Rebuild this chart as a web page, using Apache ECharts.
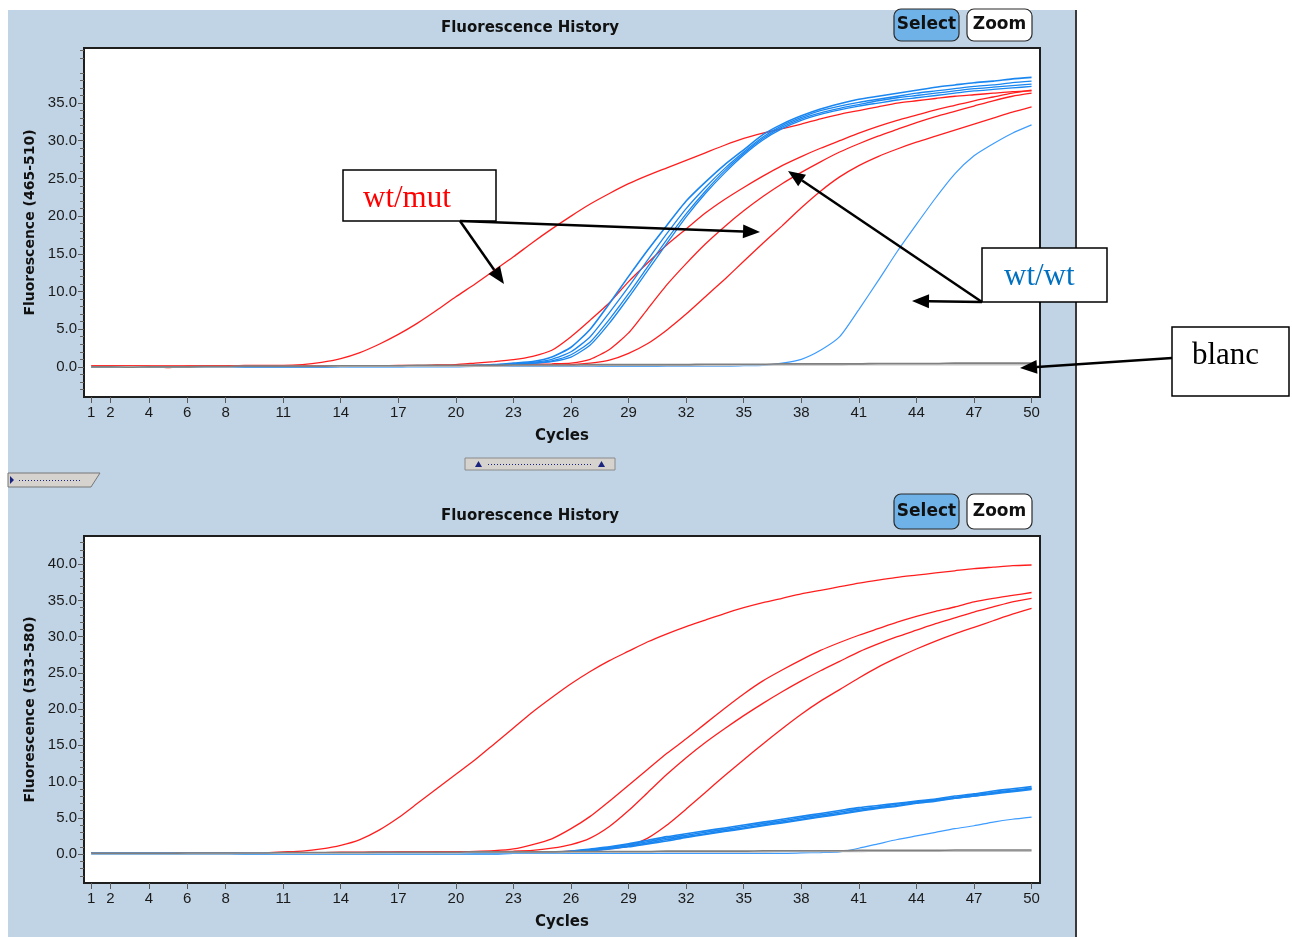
<!DOCTYPE html>
<html>
<head>
<meta charset="utf-8">
<title>Fluorescence History</title>
<script src="https://cdn.jsdelivr.net/npm/echarts@6/dist/echarts.min.js"></script>
<style>
  html, body { margin: 0; padding: 0; background: #fff; }
  #chart { width: 1292px; height: 937px; }
</style>
</head>
<body>
<div id="chart"></div>
<script>
// cycle numbers (x) and axis labels
const cycles = [1, 2, 3, 4, 5, 6, 7, 8, 9, 10, 11, 12, 13, 14, 15, 16, 17, 18, 19, 20,
  21, 22, 23, 24, 25, 26, 27, 28, 29, 30, 31, 32, 33, 34, 35, 36, 37, 38, 39, 40,
  41, 42, 43, 44, 45, 46, 47, 48, 49, 50];
const cycleTicks = [1, 2, 4, 6, 8, 11, 14, 17, 20, 23, 26, 29, 32, 35, 38, 41, 44, 47, 50];
const yTicks465 = [0, 5, 10, 15, 20, 25, 30, 35];
const yTicks533 = [0, 5, 10, 15, 20, 25, 30, 35, 40];

// channel 465-510 (top)
const mut1_465 = [0.1, 0.1, 0.1, 0.05, -0.1, 0.05, 0.1, 0.1, 0.2, 0.2,
  0.2, 0.3, 0.6, 1.1, 1.9, 3.0, 4.3, 5.8, 7.5, 9.3,
  11.0, 12.8, 14.6, 16.5, 18.3, 20.0, 21.6, 23.0, 24.3, 25.4,
  26.4, 27.4, 28.4, 29.4, 30.3, 31.0, 31.6, 32.2, 32.9, 33.5,
  34.0, 34.5, 35.0, 35.3, 35.6, 35.9, 36.1, 36.3, 36.5, 36.6];
const mut2_465 = [0.1, 0.1, 0.1, 0.1, 0.1, 0.1, 0.1, 0.1, 0.1, 0.1,
  0.1, 0.1, 0.1, 0.1, 0.15, 0.15, 0.2, 0.2, 0.25, 0.3,
  0.5, 0.7, 0.95, 1.4, 2.2, 4.0, 6.2, 8.5, 11.3, 13.8,
  16.2, 18.3, 20.4, 22.2, 23.8, 25.3, 26.7, 27.9, 29.0, 30.0,
  31.0, 31.9, 32.7, 33.4, 34.1, 34.7, 35.3, 35.8, 36.3, 36.7];
const mut3_465 = [0.1, 0.1, 0.1, 0.1, 0.1, 0.1, 0.1, 0.1, 0.1, 0.1,
  0.1, 0.1, 0.1, 0.1, 0.1, 0.1, 0.15, 0.15, 0.2, 0.2,
  0.2, 0.25, 0.3, 0.35, 0.4, 0.5, 1.0, 2.3, 4.5, 7.7,
  10.9, 13.7, 16.3, 18.6, 20.7, 22.6, 24.3, 25.8, 27.2, 28.5,
  29.6, 30.6, 31.5, 32.4, 33.2, 33.9, 34.6, 35.3, 35.9, 36.3];
const mut4_465 = [0.05, 0.05, 0.05, 0.05, 0.05, 0.05, 0.05, 0.05, 0.1, 0.1,
  0.1, 0.1, 0.1, 0.1, 0.1, 0.1, 0.1, 0.1, 0.1, 0.1,
  0.1, 0.15, 0.2, 0.2, 0.25, 0.3, 0.5, 0.9, 1.8, 3.1,
  4.9, 7.0, 9.3, 11.6, 14.0, 16.4, 18.7, 21.1, 23.3, 25.2,
  26.7, 27.9, 28.9, 29.8, 30.6, 31.4, 32.2, 33.0, 33.8, 34.5];
const wt1_465 = [0.0, 0.0, 0.0, 0.0, 0.0, 0.0, 0.0, 0.0, 0.0, 0.0,
  0.0, 0.0, 0.0, 0.05, 0.05, 0.05, 0.05, 0.1, 0.1, 0.1,
  0.2, 0.3, 0.5, 0.7, 1.3, 2.6, 5.0, 8.4, 12.0, 15.5,
  18.8, 22.0, 24.5, 26.8, 28.8, 30.8, 32.2, 33.3, 34.2, 34.9,
  35.5, 35.9, 36.3, 36.7, 37.1, 37.4, 37.7, 37.9, 38.2, 38.4];
const wt2_465 = [0.0, 0.0, 0.0, 0.0, 0.0, 0.0, 0.0, 0.0, 0.0, 0.0,
  0.0, 0.0, 0.0, 0.05, 0.05, 0.05, 0.05, 0.1, 0.1, 0.1,
  0.15, 0.25, 0.4, 0.6, 1.0, 2.0, 4.0, 7.2, 10.6, 14.2,
  17.7, 21.0, 23.8, 26.3, 28.5, 30.5, 32.0, 33.1, 34.0, 34.6,
  35.1, 35.5, 35.9, 36.3, 36.6, 36.9, 37.2, 37.4, 37.7, 37.9];
const wt3_465 = [0.0, 0.0, 0.0, 0.0, 0.0, 0.0, 0.0, 0.0, 0.0, 0.0,
  0.0, 0.0, 0.0, 0.05, 0.05, 0.05, 0.05, 0.1, 0.1, 0.1,
  0.1, 0.2, 0.35, 0.5, 0.8, 1.6, 3.3, 6.3, 9.7, 13.3,
  16.9, 20.3, 23.3, 26.0, 28.3, 30.3, 31.8, 32.9, 33.7, 34.3,
  34.8, 35.3, 35.7, 36.0, 36.3, 36.6, 36.9, 37.1, 37.3, 37.5];
const wt4_465 = [0.0, 0.0, 0.0, 0.0, 0.0, 0.0, 0.0, 0.0, 0.0, 0.0,
  0.0, 0.0, 0.0, 0.05, 0.05, 0.05, 0.05, 0.1, 0.1, 0.1,
  0.1, 0.15, 0.3, 0.45, 0.7, 1.3, 2.9, 5.8, 9.2, 12.8,
  16.4, 19.9, 23.0, 25.7, 28.1, 30.1, 31.6, 32.7, 33.5, 34.1,
  34.6, 35.0, 35.4, 35.7, 36.0, 36.3, 36.6, 36.8, 37.0, 37.2];
const wt5_465 = [0.0, 0.0, 0.0, 0.0, 0.0, 0.0, 0.0, 0.0, 0.0, 0.0,
  0.0, 0.0, 0.0, 0.0, 0.0, 0.0, 0.0, 0.0, 0.0, 0.0,
  0.05, 0.05, 0.05, 0.05, 0.05, 0.05, 0.05, 0.05, 0.05, 0.05,
  0.1, 0.1, 0.1, 0.1, 0.15, 0.2, 0.5, 1.0, 2.2, 4.0,
  7.6, 11.4, 15.3, 18.9, 22.4, 25.6, 28.0, 29.6, 31.0, 32.1];
const blanc1_465 = [0.0, 0.0, -0.05, 0.0, 0.0, 0.0, 0.05, 0.05, 0.1, 0.1,
  0.1, 0.1, 0.1, 0.15, 0.15, 0.15, 0.15, 0.2, 0.2, 0.2,
  0.2, 0.2, 0.25, 0.25, 0.25, 0.25, 0.3, 0.3, 0.3, 0.3,
  0.3, 0.3, 0.35, 0.35, 0.35, 0.35, 0.4, 0.4, 0.4, 0.4,
  0.4, 0.45, 0.45, 0.45, 0.45, 0.5, 0.5, 0.5, 0.5, 0.5];
const blanc2_465 = [0.0, 0.0, 0.0, 0.0, 0.0, 0.0, 0.0, 0.0, 0.05, 0.05,
  0.05, 0.05, 0.05, 0.05, 0.1, 0.1, 0.1, 0.1, 0.1, 0.1,
  0.1, 0.1, 0.15, 0.15, 0.15, 0.15, 0.15, 0.2, 0.2, 0.2,
  0.2, 0.2, 0.2, 0.2, 0.25, 0.25, 0.25, 0.25, 0.25, 0.25,
  0.3, 0.3, 0.3, 0.3, 0.3, 0.3, 0.3, 0.3, 0.3, 0.3];

// channel 533-580 (bottom)
const mut1_533 = [0.2, 0.2, 0.1, 0.15, 0.1, 0.15, 0.2, 0.2, 0.2, 0.2,
  0.3, 0.4, 0.7, 1.2, 2.0, 3.3, 5.0, 7.0, 9.0, 11.0,
  13.0, 15.2, 17.4, 19.6, 21.6, 23.5, 25.2, 26.7, 28.0, 29.3,
  30.4, 31.4, 32.3, 33.2, 34.0, 34.7, 35.3, 35.9, 36.4, 36.9,
  37.4, 37.8, 38.2, 38.5, 38.8, 39.1, 39.4, 39.6, 39.8, 39.9];
const mut2_533 = [0.2, 0.2, 0.2, 0.2, 0.2, 0.2, 0.2, 0.2, 0.2, 0.2,
  0.2, 0.2, 0.2, 0.25, 0.25, 0.25, 0.3, 0.3, 0.3, 0.3,
  0.35, 0.45, 0.7, 1.3, 2.1, 3.5, 5.2, 7.3, 9.5, 11.7,
  13.9, 15.9, 18.0, 20.1, 22.1, 23.9, 25.4, 26.8, 28.1, 29.2,
  30.2, 31.1, 32.0, 32.8, 33.5, 34.1, 34.8, 35.3, 35.7, 36.1];
const mut3_533 = [0.2, 0.2, 0.2, 0.2, 0.2, 0.2, 0.2, 0.2, 0.2, 0.2,
  0.2, 0.2, 0.2, 0.2, 0.2, 0.25, 0.25, 0.25, 0.3, 0.3,
  0.3, 0.35, 0.4, 0.5, 0.8, 1.3, 2.2, 3.8, 6.0, 8.5,
  11.0, 13.3, 15.4, 17.3, 19.1, 20.8, 22.4, 23.9, 25.3, 26.6,
  27.9, 29.0, 30.0, 30.9, 31.8, 32.6, 33.4, 34.1, 34.8, 35.3];
const mut4_533 = [0.15, 0.15, 0.15, 0.15, 0.15, 0.15, 0.15, 0.15, 0.15, 0.15,
  0.15, 0.15, 0.15, 0.15, 0.15, 0.2, 0.2, 0.2, 0.2, 0.2,
  0.2, 0.25, 0.25, 0.3, 0.3, 0.4, 0.5, 0.7, 1.1, 2.2,
  4.0, 6.2, 8.5, 10.8, 13.0, 15.2, 17.3, 19.3, 21.1, 22.7,
  24.3, 25.8, 27.1, 28.3, 29.4, 30.4, 31.3, 32.2, 33.1, 33.9];
const wt1_533 = [0.1, 0.1, 0.1, 0.1, 0.1, 0.1, 0.1, 0.1, 0.1, 0.1,
  0.1, 0.1, 0.1, 0.1, 0.1, 0.1, 0.1, 0.1, 0.1, 0.1,
  0.1, 0.1, 0.15, 0.15, 0.2, 0.4, 0.7, 1.0, 1.4, 1.9,
  2.4, 2.8, 3.2, 3.6, 4.0, 4.4, 4.8, 5.2, 5.6, 6.0,
  6.4, 6.7, 7.0, 7.3, 7.6, 8.0, 8.3, 8.7, 9.0, 9.3];
const wt2_533 = [0.1, 0.1, 0.1, 0.1, 0.1, 0.1, 0.1, 0.1, 0.1, 0.1,
  0.1, 0.1, 0.1, 0.1, 0.1, 0.1, 0.1, 0.1, 0.1, 0.1,
  0.1, 0.1, 0.1, 0.15, 0.2, 0.35, 0.6, 0.9, 1.3, 1.7,
  2.2, 2.6, 3.0, 3.4, 3.8, 4.2, 4.6, 5.0, 5.4, 5.8,
  6.2, 6.5, 6.9, 7.2, 7.5, 7.8, 8.2, 8.5, 8.8, 9.1];
const wt3_533 = [0.05, 0.05, 0.05, 0.05, 0.05, 0.05, 0.05, 0.05, 0.05, 0.05,
  0.05, 0.05, 0.05, 0.05, 0.05, 0.05, 0.05, 0.05, 0.05, 0.05,
  0.05, 0.05, 0.1, 0.1, 0.15, 0.3, 0.5, 0.8, 1.1, 1.5,
  2.0, 2.4, 2.8, 3.2, 3.6, 4.0, 4.4, 4.8, 5.2, 5.6,
  6.0, 6.4, 6.7, 7.1, 7.4, 7.7, 8.0, 8.4, 8.7, 9.0];
const wt4_533 = [0.05, 0.05, 0.05, 0.05, 0.05, 0.05, 0.05, 0.05, 0.05, 0.05,
  0.05, 0.05, 0.05, 0.05, 0.05, 0.05, 0.05, 0.05, 0.05, 0.05,
  0.05, 0.05, 0.1, 0.1, 0.1, 0.2, 0.4, 0.7, 1.0, 1.4,
  1.8, 2.3, 2.7, 3.1, 3.5, 3.9, 4.3, 4.7, 5.1, 5.5,
  5.9, 6.3, 6.6, 7.0, 7.3, 7.7, 8.0, 8.3, 8.6, 8.9];
const wt5_533 = [0.1, 0.1, 0.1, 0.1, 0.1, 0.1, 0.1, 0.1, 0.1, 0.1,
  0.1, 0.1, 0.1, 0.1, 0.1, 0.1, 0.1, 0.1, 0.1, 0.1,
  0.1, 0.1, 0.1, 0.1, 0.1, 0.1, 0.1, 0.1, 0.1, 0.1,
  0.1, 0.1, 0.1, 0.1, 0.1, 0.1, 0.1, 0.15, 0.2, 0.3,
  0.8, 1.4, 2.0, 2.5, 3.0, 3.5, 3.9, 4.4, 4.8, 5.1];
const blanc1_533 = [0.1, 0.1, 0.1, 0.1, 0.1, 0.15, 0.15, 0.15, 0.15, 0.15,
  0.2, 0.2, 0.2, 0.2, 0.2, 0.25, 0.25, 0.25, 0.25, 0.25,
  0.3, 0.3, 0.3, 0.3, 0.3, 0.35, 0.35, 0.35, 0.35, 0.35,
  0.4, 0.4, 0.4, 0.4, 0.4, 0.45, 0.45, 0.45, 0.45, 0.45,
  0.5, 0.5, 0.5, 0.5, 0.5, 0.55, 0.55, 0.55, 0.55, 0.55];
const blanc2_533 = [0.05, 0.05, 0.05, 0.05, 0.05, 0.05, 0.05, 0.05, 0.1, 0.1,
  0.1, 0.1, 0.1, 0.1, 0.1, 0.15, 0.15, 0.15, 0.15, 0.15,
  0.2, 0.2, 0.2, 0.2, 0.2, 0.25, 0.25, 0.25, 0.25, 0.25,
  0.3, 0.3, 0.3, 0.3, 0.3, 0.3, 0.35, 0.35, 0.35, 0.35,
  0.35, 0.4, 0.4, 0.4, 0.4, 0.4, 0.4, 0.4, 0.4, 0.4];

const RED = '#ff1e1e';
const BLUE = '#1a86f0';
const BLUE_LATE = '#3d9cff';

const tickFont = "'Liberation Sans', Arial, sans-serif";
const boldFont = "'DejaVu Sans', sans-serif";

function curve(values, color, width, panel) {
  return {
    type: 'line',
    xAxisIndex: panel,
    yAxisIndex: panel * 2,
    data: cycles.map((c, i) => [c, values[i]]),
    symbol: 'none',
    smooth: 0.2,
    lineStyle: { color: color, width: width },
    itemStyle: { color: color },
    emphasis: { disabled: true },
    silent: true
  };
}

function minorTicks(lo, hi) {
  const out = [];
  for (let v = lo; v <= hi; v++) if (v % 5 !== 0) out.push(v);
  return out;
}

function xAxis(grid) {
  return {
    type: 'value', gridIndex: grid, min: 0.62, max: 50.44,
    name: 'Cycles', nameLocation: 'middle', nameGap: 32,
    nameTextStyle: { fontFamily: boldFont, fontWeight: 'bold', fontSize: 15, color: '#111' },
    axisLine: { show: false, onZero: false },
    splitLine: { show: false },
    axisTick: { show: true, length: 6, customValues: cycleTicks, lineStyle: { color: '#5a5a5a' } },
    axisLabel: { customValues: cycleTicks, margin: 8, fontFamily: tickFont, fontSize: 15, color: '#1a1a1a' }
  };
}

function yAxes(grid, max, labels, title) {
  return [{
    type: 'value', gridIndex: grid, position: 'left', min: -4, max: max,
    name: title, nameLocation: 'middle', nameRotate: 90, nameGap: 46,
    nameTextStyle: { fontFamily: boldFont, fontWeight: 'bold', fontSize: 14, color: '#111' },
    axisLine: { show: false, onZero: false },
    splitLine: { show: false },
    axisTick: { show: true, length: 6, customValues: labels, lineStyle: { color: '#5a5a5a' } },
    axisLabel: { customValues: labels, margin: 7, fontFamily: tickFont, fontSize: 15, color: '#1a1a1a',
      formatter: v => v.toFixed(1) }
  }, {
    // minor ticks, same scale, same side
    type: 'value', gridIndex: grid, position: 'left', offset: 0, min: -4, max: max,
    axisLine: { show: false, onZero: false },
    splitLine: { show: false },
    axisLabel: { show: false },
    axisTick: { show: true, length: 4, customValues: minorTicks(-3, Math.floor(max)), lineStyle: { color: '#666' } }
  }];
}

function arrow(x1, y1, x2, y2) {
  const a = Math.atan2(y2 - y1, x2 - x1);
  const len = 17, half = 7;
  const bx = x2 - len * Math.cos(a), by = y2 - len * Math.sin(a);
  const nx = -Math.sin(a) * half, ny = Math.cos(a) * half;
  return [
    { type: 'line', z: 100, silent: true, shape: { x1: x1, y1: y1, x2: bx, y2: by }, style: { stroke: '#000', lineWidth: 2.5 } },
    { type: 'polygon', z: 100, silent: true, shape: { points: [[x2, y2], [bx + nx, by + ny], [bx - nx, by - ny]] }, style: { fill: '#000' } }
  ];
}

function labelBox(x, y, w, h, text, tx, ty, color) {
  return [
    { type: 'rect', z: 100, silent: true, shape: { x: x, y: y, width: w, height: h }, style: { fill: '#fff', stroke: '#000', lineWidth: 1.5 } },
    { type: 'text', z: 101, silent: true, x: tx, y: ty,
      style: { text: text, fill: color, font: "31px 'Liberation Serif', 'Times New Roman', serif", verticalAlign: 'middle' } }
  ];
}

function buttons(y, h) {
  const txt = (s, cx) => ({ type: 'text', z: 51, silent: true, x: cx, y: y + h / 2,
    style: { text: s, fill: '#111', font: "bold 17px 'DejaVu Sans', sans-serif", align: 'center', verticalAlign: 'middle' } });
  return [
    { type: 'rect', z: 50, silent: true, shape: { x: 894, y: y, width: 65, height: h, r: 7 }, style: { fill: '#6fb2e8', stroke: '#2a2a2a', lineWidth: 1.2 } },
    txt('Select', 926.5),
    { type: 'rect', z: 50, silent: true, shape: { x: 967, y: y, width: 65, height: h, r: 7 }, style: { fill: '#fff', stroke: '#2a2a2a', lineWidth: 1.2 } },
    txt('Zoom', 999.5)
  ];
}

const decor = [
  { type: 'rect', z: -100, silent: true, shape: { x: 8, y: 10, width: 1068, height: 927 }, style: { fill: '#c1d4e5' } },
  { type: 'line', z: -99, silent: true, shape: { x1: 1076, y1: 10, x2: 1076, y2: 937 }, style: { stroke: '#3a3a3a', lineWidth: 2 } },
  // splitter handle between the two plots
  { type: 'rect', z: -98, silent: true, shape: { x: 465, y: 458, width: 150, height: 12 }, style: { fill: '#d6d3ce', stroke: '#8a8a8a', lineWidth: 1 } },
  { type: 'polygon', z: -97, silent: true, shape: { points: [[475, 467], [482, 467], [478.5, 461]] }, style: { fill: '#1a237e' } },
  { type: 'polygon', z: -97, silent: true, shape: { points: [[598, 467], [605, 467], [601.5, 461]] }, style: { fill: '#1a237e' } },
  { type: 'line', z: -97, silent: true, shape: { x1: 488, y1: 464.5, x2: 592, y2: 464.5 }, style: { stroke: '#1a237e', lineWidth: 1, lineDash: [1, 2] } },
  // side tab
  { type: 'polygon', z: -98, silent: true, shape: { points: [[8, 473], [100, 473], [91, 487], [8, 487]] }, style: { fill: '#d6d3ce', stroke: '#777', lineWidth: 1 } },
  { type: 'polygon', z: -97, silent: true, shape: { points: [[10, 476], [14, 480], [10, 484]] }, style: { fill: '#1a237e' } },
  { type: 'line', z: -97, silent: true, shape: { x1: 19, y1: 480.5, x2: 82, y2: 480.5 }, style: { stroke: '#1a237e', lineWidth: 1, lineDash: [1, 2] } }
];

const notes = [].concat(
  labelBox(343, 170, 153, 51, 'wt/mut', 363, 199, '#ff0000'),
  arrow(460, 221, 504, 284),
  arrow(460, 221, 760, 232),
  labelBox(982, 248, 125, 54, 'wt/wt', 1004, 277, '#0070c0'),
  arrow(982, 302, 788, 171),
  arrow(982, 302, 912, 301),
  labelBox(1172, 327, 117, 69, 'blanc', 1192, 356, '#000'),
  arrow(1172, 358, 1020, 368)
);

const option = {
  backgroundColor: '#fff',
  animation: false,
  title: [
    { text: 'Fluorescence History', left: 530, top: 21, textAlign: 'center', padding: 0,
      textStyle: { fontFamily: boldFont, fontWeight: 'bold', fontSize: 15, color: '#111' } },
    { text: 'Fluorescence History', left: 530, top: 509, textAlign: 'center', padding: 0,
      textStyle: { fontFamily: boldFont, fontWeight: 'bold', fontSize: 15, color: '#111' } }
  ],
  grid: [
    { left: 84, top: 48, width: 956, height: 349, show: true, backgroundColor: '#fff', borderColor: '#1e1e1e', borderWidth: 2 },
    { left: 84, top: 536, width: 956, height: 347, show: true, backgroundColor: '#fff', borderColor: '#1e1e1e', borderWidth: 2 }
  ],
  xAxis: [xAxis(0), xAxis(1)],
  yAxis: [].concat(
    yAxes(0, 42.3, yTicks465, 'Fluorescence (465-510)'),
    yAxes(1, 43.9, yTicks533, 'Fluorescence (533-580)')
  ),
  graphic: { elements: decor.concat(buttons(9, 32), buttons(494, 35), notes) },
  series: [
    curve(mut1_465, RED, 1.3, 0),
    curve(mut2_465, RED, 1.3, 0),
    curve(mut3_465, RED, 1.3, 0),
    curve(mut4_465, RED, 1.3, 0),
    curve(wt1_465, BLUE, 1.6, 0),
    curve(wt2_465, BLUE, 1.3, 0),
    curve(wt3_465, BLUE, 1.3, 0),
    curve(wt4_465, BLUE, 1.3, 0),
    curve(wt5_465, BLUE_LATE, 1.2, 0),
    curve(blanc2_465, '#c4c4c4', 1.6, 0),
    curve(blanc1_465, '#808080', 1.6, 0),

    curve(mut1_533, RED, 1.3, 1),
    curve(mut2_533, RED, 1.3, 1),
    curve(mut3_533, RED, 1.3, 1),
    curve(mut4_533, RED, 1.3, 1),
    curve(wt1_533, BLUE, 1.6, 1),
    curve(wt2_533, BLUE, 1.6, 1),
    curve(wt3_533, BLUE, 1.6, 1),
    curve(wt4_533, BLUE, 1.6, 1),
    curve(wt5_533, BLUE_LATE, 1.2, 1),
    curve(blanc2_533, '#c4c4c4', 1.6, 1),
    curve(blanc1_533, '#808080', 1.6, 1)
  ]
};

const chart = echarts.init(document.getElementById('chart'));
chart.setOption(option);
window.addEventListener('resize', () => { chart.resize(); });
</script>
</body>
</html>
